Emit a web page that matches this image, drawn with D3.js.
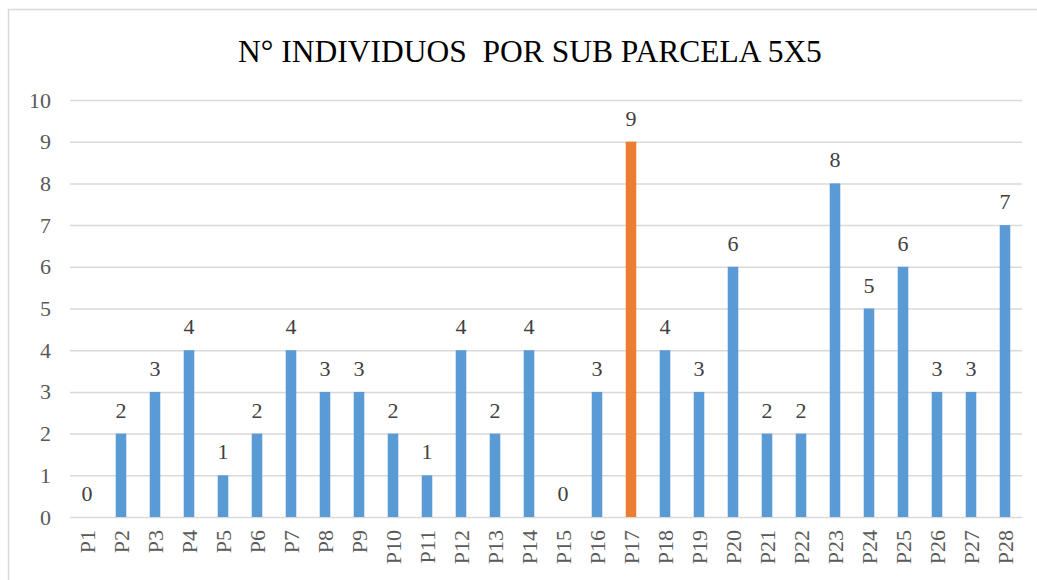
<!DOCTYPE html>
<html><head><meta charset="utf-8">
<script src="https://cdn.jsdelivr.net/npm/d3@7/dist/d3.min.js"></script>
<style>body{margin:0;background:#fff;}svg{display:block;} text{font-family:'Liberation Serif',serif;}</style>
</head><body>
<svg id="c" width="1037" height="580"></svg>
<script>
const categories = ["P1","P2","P3","P4","P5","P6","P7","P8","P9","P10","P11","P12","P13","P14","P15","P16","P17","P18","P19","P20","P21","P22","P23","P24","P25","P26","P27","P28"];
const values = [0,2,3,4,1,2,4,3,3,2,1,4,2,4,0,3,9,4,3,6,2,2,8,5,6,3,3,7];
const highlight = ["P17"];
const yTicks = [0,1,2,3,4,5,6,7,8,9,10];
const title = "N° INDIVIDUOS  POR SUB PARCELA 5X5";

const svg = d3.select("#c");
const font = "'Liberation Serif', serif";
const m = {left:70, right:1022, top:100, bottom:517};

svg.append("rect").attr("x",8.5).attr("y",9.5).attr("width",1040).attr("height",600)
  .attr("fill","#fff").attr("stroke","#d9d9d9").attr("stroke-width",1.5);

svg.append("text").attr("x",530).attr("y",62).attr("text-anchor","middle")
  .style("font-family",font).style("font-size","31.5px").attr("fill","#000")
  .style("white-space","pre").text(title);

const x = d3.scaleBand().domain(categories).range([m.left,m.right]).paddingInner(0.69).paddingOuter(0.345);
const y = d3.scaleLinear().domain([0,10]).range([m.bottom,m.top]);

const yAxis = svg.append("g").attr("transform",`translate(${m.left},0)`)
  .call(d3.axisLeft(y).tickValues(yTicks).tickSize(-(m.right-m.left)).tickPadding(19));
yAxis.attr("font-family",null).attr("font-size",null);
yAxis.select(".domain").remove();
yAxis.selectAll("line").attr("stroke","#d9d9d9").attr("stroke-width",1.5);
yAxis.selectAll("text").style("font-family",font).style("font-size","22px").attr("fill","#595959");

svg.selectAll("rect.bar").data(categories).join("rect").attr("class","bar")
  .attr("x",d=>x(d)).attr("width",x.bandwidth())
  .attr("y",(d,i)=>y(values[i])).attr("height",(d,i)=>y(0)-y(values[i]))
  .attr("fill",d=>highlight.includes(d)?"#ed7d31":"#5b9bd5");

svg.selectAll("text.val").data(categories).join("text").attr("class","val")
  .attr("x",d=>x(d)+x.bandwidth()/2).attr("y",(d,i)=>y(values[i])-16)
  .attr("text-anchor","middle").style("font-family",font).style("font-size","22px").attr("fill","#404040")
  .text((d,i)=>values[i]);

const xAxis = svg.append("g").attr("transform",`translate(0,${m.bottom})`)
  .call(d3.axisBottom(x).tickSize(0).tickPadding(0));
xAxis.attr("font-family",null).attr("font-size",null);
xAxis.select(".domain").remove();
xAxis.selectAll("text").style("font-family",font).style("font-size","22px").attr("fill","#595959")
  .attr("text-anchor","end").attr("dy",null)
  .attr("transform","translate(0,13) rotate(-90)").attr("x",0).attr("y",0)
  .attr("dominant-baseline","central");
</script>
</body></html>
